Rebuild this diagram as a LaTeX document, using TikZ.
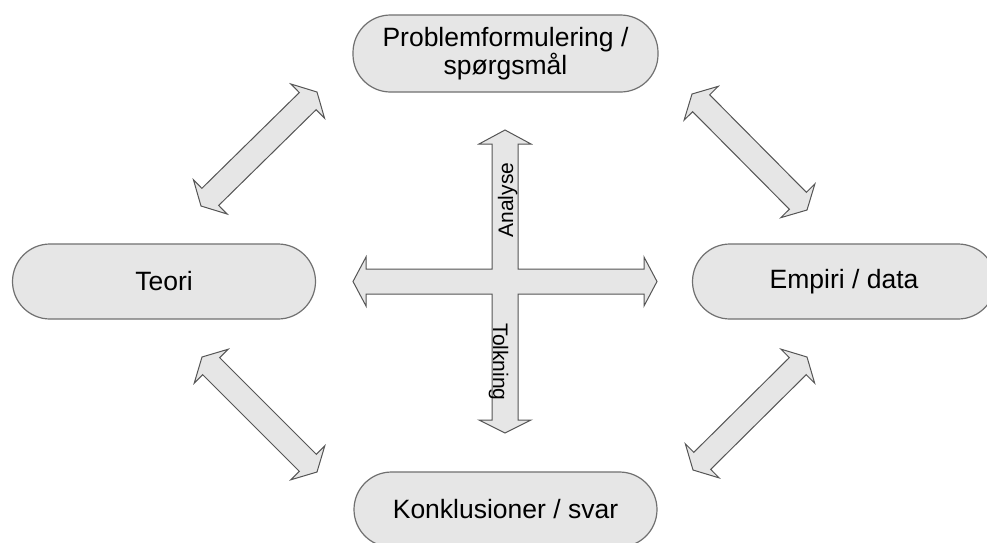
\documentclass[tikz,border=0pt]{standalone}
\usepackage{fontspec}
\setmainfont{Liberation Sans}
\usetikzlibrary{calc}
\definecolor{boxfill}{HTML}{E6E6E6}
\definecolor{boxline}{HTML}{707070}
\definecolor{arrline}{HTML}{555555}
\tikzset{
  stadium/.style={draw=boxline, fill=boxfill, line width=1.2pt, rectangle,
    rounded corners=37.5pt, minimum width=303pt, minimum height=75pt,
    inner sep=0pt, align=center, font=\fontsize{26.5}{26.5}\selectfont},
  fatarrow/.style={draw=arrline, fill=boxfill, line width=1pt, line join=miter},
  crosslabel/.style={font=\fontsize{21}{21}\selectfont, inner sep=0pt},
}
% double block arrow between two named coordinates
\newcommand\dblarr[2]{%
  \path[fatarrow] (#1)
    -- ($(#1)!13pt!(#2)!24pt!90:(#2)$)
    -- ($(#1)!13pt!(#2)!12pt!90:(#2)$)
    -- ($(#2)!13pt!(#1)!12pt!-90:(#1)$)
    -- ($(#2)!13pt!(#1)!24pt!-90:(#1)$)
    -- (#2)
    -- ($(#2)!13pt!(#1)!24pt!90:(#1)$)
    -- ($(#2)!13pt!(#1)!12pt!90:(#1)$)
    -- ($(#1)!13pt!(#2)!12pt!-90:(#2)$)
    -- ($(#1)!13pt!(#2)!24pt!-90:(#2)$)
    -- cycle;}
\begin{document}
\begin{tikzpicture}[x=1pt,y=-1pt]
\useasboundingbox (0,0) rectangle (987,542);
\fill[white] (0,0) rectangle (987,542);
\clip (0,0) rectangle (987,542);

% nodes
\node[stadium, minimum width=305pt, minimum height=77pt] (prob) at (505.5,53.5) {Problemformulering /\\spørgsmål};
\node[stadium] (teori) at (164,281.5) {Teori};
\node[stadium] (empiri) at (844,281.5) {Empiri / data};
\node[stadium] (konk) at (505.5,509.5) {Konklusioner / svar};

% diagonal arrows
\coordinate (tlA) at (201,206); \coordinate (tlB) at (317,92);
\coordinate (trA) at (692,94);  \coordinate (trB) at (807,210);
\coordinate (blA) at (202,357); \coordinate (blB) at (317,472);
\coordinate (brA) at (693,470); \coordinate (brB) at (807,357);
\dblarr{tlA}{tlB}
\dblarr{trA}{trB}
\dblarr{blA}{blB}
\dblarr{brA}{brB}

% central cross
\coordinate (cW) at (353,281.5);
\coordinate (cE) at (657,281.5);
\coordinate (cN) at (505,130);
\coordinate (cS) at (505,433);
\path[fatarrow] (cW) -- (366,257) -- (366,269) -- (492,269) -- (492,144) -- (479,144)
  -- (cN) -- (531,144) -- (518,144) -- (518,269) -- (644,269) -- (644,257)
  -- (cE) -- (644,306) -- (644,294) -- (518,294) -- (518,420) -- (531,420)
  -- (cS) -- (479,420) -- (492,420) -- (492,294) -- (366,294) -- (366,306) -- cycle;

\node[crosslabel, rotate=90, anchor=base] (analyse) at (513,200) {Analyse};
\node[crosslabel, rotate=-90, anchor=base] (tolkning) at (493,362) {Tolkning};
\end{tikzpicture}
\end{document}
